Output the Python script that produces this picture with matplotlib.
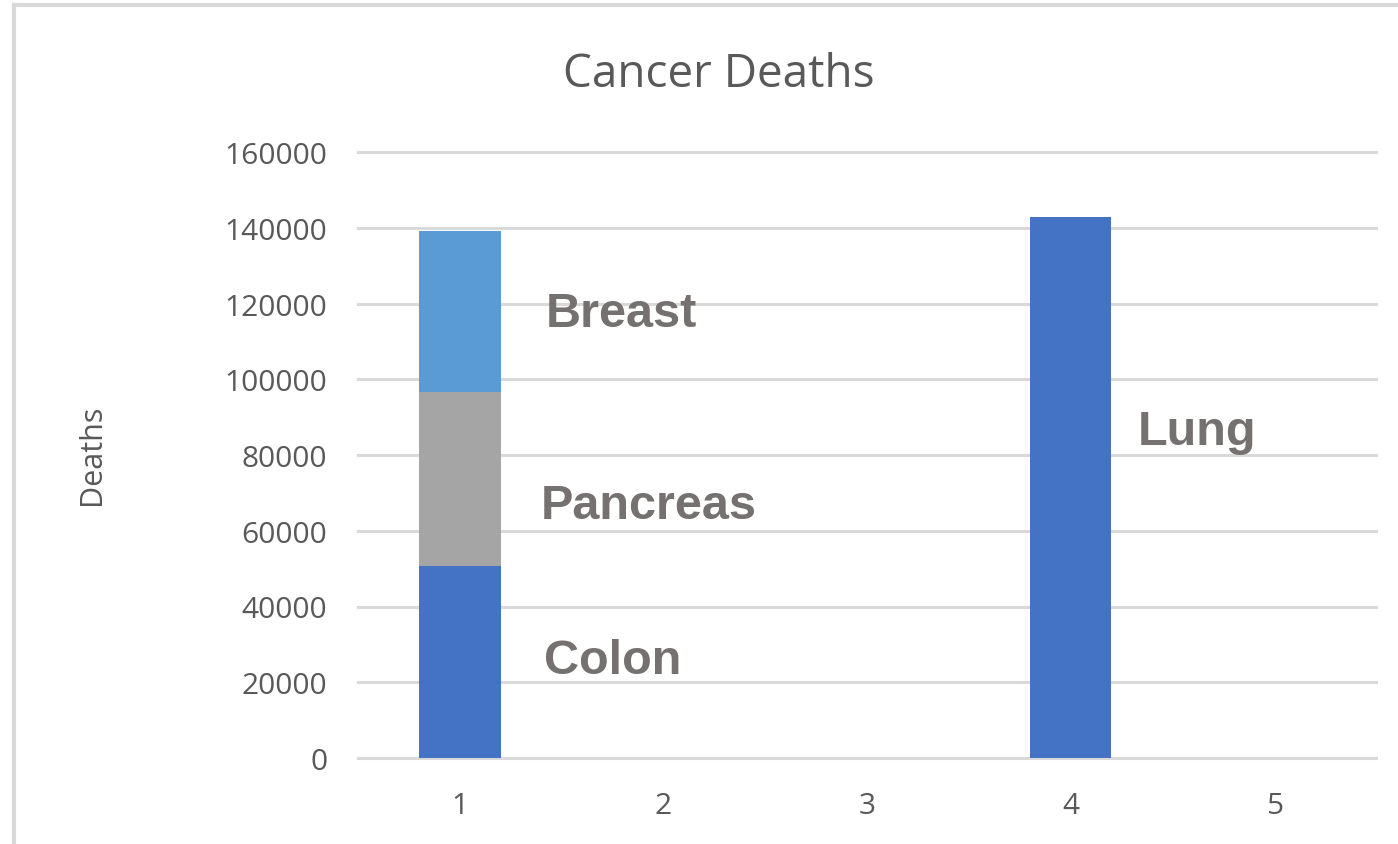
import matplotlib
matplotlib.use("Agg")
import matplotlib.pyplot as plt
from matplotlib.lines import Line2D

categories = [1, 2, 3, 4, 5]
colon = [50700, 0, 0, 0, 0]
pancreas = [45900, 0, 0, 0, 0]
breast = [42500, 0, 0, 0, 0]
lung = [0, 0, 0, 142800, 0]
yticks = [0, 20000, 40000, 60000, 80000, 100000, 120000, 140000, 160000]

plt.rcParams['font.family'] = ['Open Sans', 'DejaVu Sans']

fig = plt.figure(figsize=(13.98, 8.45), dpi=100)
ax = fig.add_axes([358/1398, (845-759)/845, (1376-358)/1398, (759-153)/845])

w = 0.4
ax.bar(categories, colon, width=w, color='#4472C4', zorder=3)
bot2 = [a for a in colon]
ax.bar(categories, pancreas, width=w, bottom=bot2, color='#A5A5A5', zorder=3)
bot3 = [a + b for a, b in zip(colon, pancreas)]
ax.bar(categories, breast, width=w, bottom=bot3, color='#5B9BD5', zorder=3)
ax.bar(categories, lung, width=w, color='#4472C4', zorder=3)

ax.set_xlim(0.5, 5.5)
ax.set_ylim(0, 160000)
ax.set_yticks(yticks)
ax.set_yticklabels([str(v) for v in yticks])
ax.set_xticks(categories)
ax.set_xticklabels([str(c) for c in categories])
ax.grid(axis='y', color='#D9D9D9', linewidth=2.2, zorder=0)
for gl in ax.get_ygridlines():
    gl.set_clip_on(False)
for s in ax.spines.values():
    s.set_visible(False)
ax.tick_params(axis='both', length=0, labelsize=21.5, labelcolor='#595959')
ax.tick_params(axis='y', pad=22)
ax.tick_params(axis='x', pad=24)

ax.set_ylabel('Deaths', fontsize=22, color='#595959', labelpad=0)
ax.yaxis.set_label_coords((107-358)/(1376-358), (759-455)/(759-153), transform=ax.transAxes)

fig.text(719/1398, 1-75/845, 'Cancer Deaths', fontsize=33, color='#595959', ha='center', va='center')

lab_kw = dict(fontsize=35, fontweight='bold', color='#767171', family=['Liberation Sans', 'DejaVu Sans'], va='center', ha='left', zorder=4)
ax.text(1.423, 117300, 'Breast', **lab_kw)
ax.text(1.399, 66700, 'Pancreas', **lab_kw)
ax.text(1.413, 25800, 'Colon', **lab_kw)
ax.text(4.331, 86100, 'Lung', **lab_kw)

# outer chart border (top & left visible)
fig.add_artist(Line2D([14/1398, 1.0], [1-6/845, 1-6/845], color='#D9D9D9', linewidth=3, transform=fig.transFigure))
fig.add_artist(Line2D([14/1398, 14/1398], [0, 1-6/845], color='#D9D9D9', linewidth=3, transform=fig.transFigure))

fig.savefig('out.png', dpi=100, facecolor='white')
